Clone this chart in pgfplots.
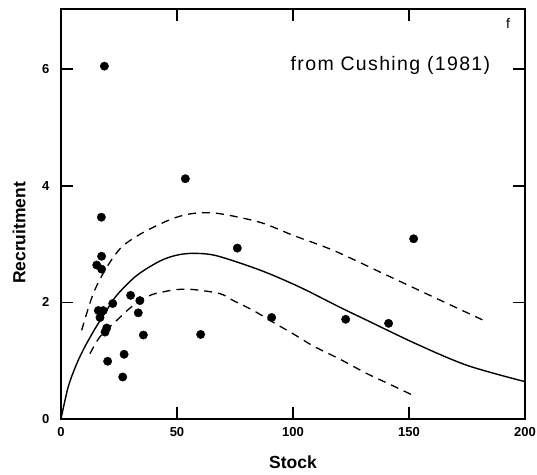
\documentclass[border=0pt]{standalone}
\usepackage{fontspec}
\setmainfont{Liberation Sans}
\usepackage{pgfplots}
\pgfplotsset{compat=1.18}
\begin{document}
\begin{tikzpicture}
\begin{axis}[
    name=ax,
    scale only axis,
    width=464pt, height=410pt,
    xmin=0, xmax=200,
    ymin=0, ymax=7.03,
    xtick={0,50,100,150,200},
    ytick={0,2,4,6},
    tick align=inside,
    major tick length=12pt,
    axis line style={line width=1.8pt},
    every tick/.style={line width=1.6pt, black},
    /pgf/number format/assume math mode=true,
    ticklabel style={font=\bfseries\fontsize{13}{13}\selectfont},
    xticklabel style={yshift=-5pt},
    yticklabel style={xshift=-8pt},
    xlabel={Stock},
    ylabel={Recruitment},
    label style={font=\bfseries\fontsize{17.5}{17.5}\selectfont},
    xlabel style={at={(axis description cs:0.5,-0.105)}, anchor=center},
    ylabel style={at={(axis description cs:-0.0905,0.454)}, anchor=center},
    clip=false,
]
% fitted curve
\addplot[black, line width=1.4pt, smooth, tension=0.5] coordinates {
(0,0) (3.1,0.55) (6.8,0.95) (10.3,1.24) (14.7,1.55) (19,1.82) (24,2.12)
(32.6,2.46) (42.7,2.71) (50,2.81) (57,2.84) (67,2.80) (86,2.55) (103,2.26)
(120,1.92) (132,1.69) (153,1.29) (175,0.92) (200,0.64)
};
% upper bound
\addplot[black, line width=1.3pt, smooth, tension=0.5, dash pattern=on 8pt off 6pt] coordinates {
(8.9,1.52) (13.9,2.15) (19.7,2.60) (26.2,2.95) (35.5,3.20) (48.4,3.44) (58,3.53)
(68.5,3.52) (86,3.37) (100,3.15) (117.5,2.89) (139.1,2.49) (160.6,2.09) (182.2,1.69)
};
% lower bound
\addplot[black, line width=1.3pt, smooth, tension=0.5, dash pattern=on 8pt off 6pt] coordinates {
(12.5,1.12) (16.8,1.41) (24,1.69) (31.2,1.95) (38.4,2.12) (44.1,2.18) (50,2.22)
(57,2.22) (68.5,2.15) (74.3,2.03) (82.9,1.86) (93.1,1.62) (100.1,1.46)
(108.8,1.25) (120,1.03) (131.8,0.78) (142,0.59) (151.5,0.41)
};
% observations
\addplot[only marks, mark=*, mark size=4.2pt, black] coordinates {
(18.7,6.05) (53.6,4.12) (17.4,3.46) (17.5,2.79) (15.4,2.64) (17.5,2.57)
(30.0,2.12) (34.0,2.03) (22.3,1.98) (33.3,1.82) (16.1,1.86) (18.2,1.86)
(16.8,1.74) (19.7,1.56) (19.0,1.49) (35.5,1.44) (27.2,1.11) (20.1,0.99)
(26.6,0.72) (76.0,2.93) (90.8,1.74) (122.7,1.71) (60.2,1.45) (152.0,3.09)
(141.2,1.64)
};
\node[anchor=base, font=\fontsize{19.5}{19.5}\selectfont\addfontfeature{LetterSpace=7}] at (axis cs:142,5.98) {from Cushing (1981)};
\node[font=\fontsize{14}{14}\selectfont] at (axis cs:192.7,6.79) {f};
\end{axis}
\pgfresetboundingbox
\path ([xshift=-61pt,yshift=-55pt]ax.south west) rectangle ([xshift=12pt,yshift=9pt]ax.north east);
\end{tikzpicture}
\end{document}
